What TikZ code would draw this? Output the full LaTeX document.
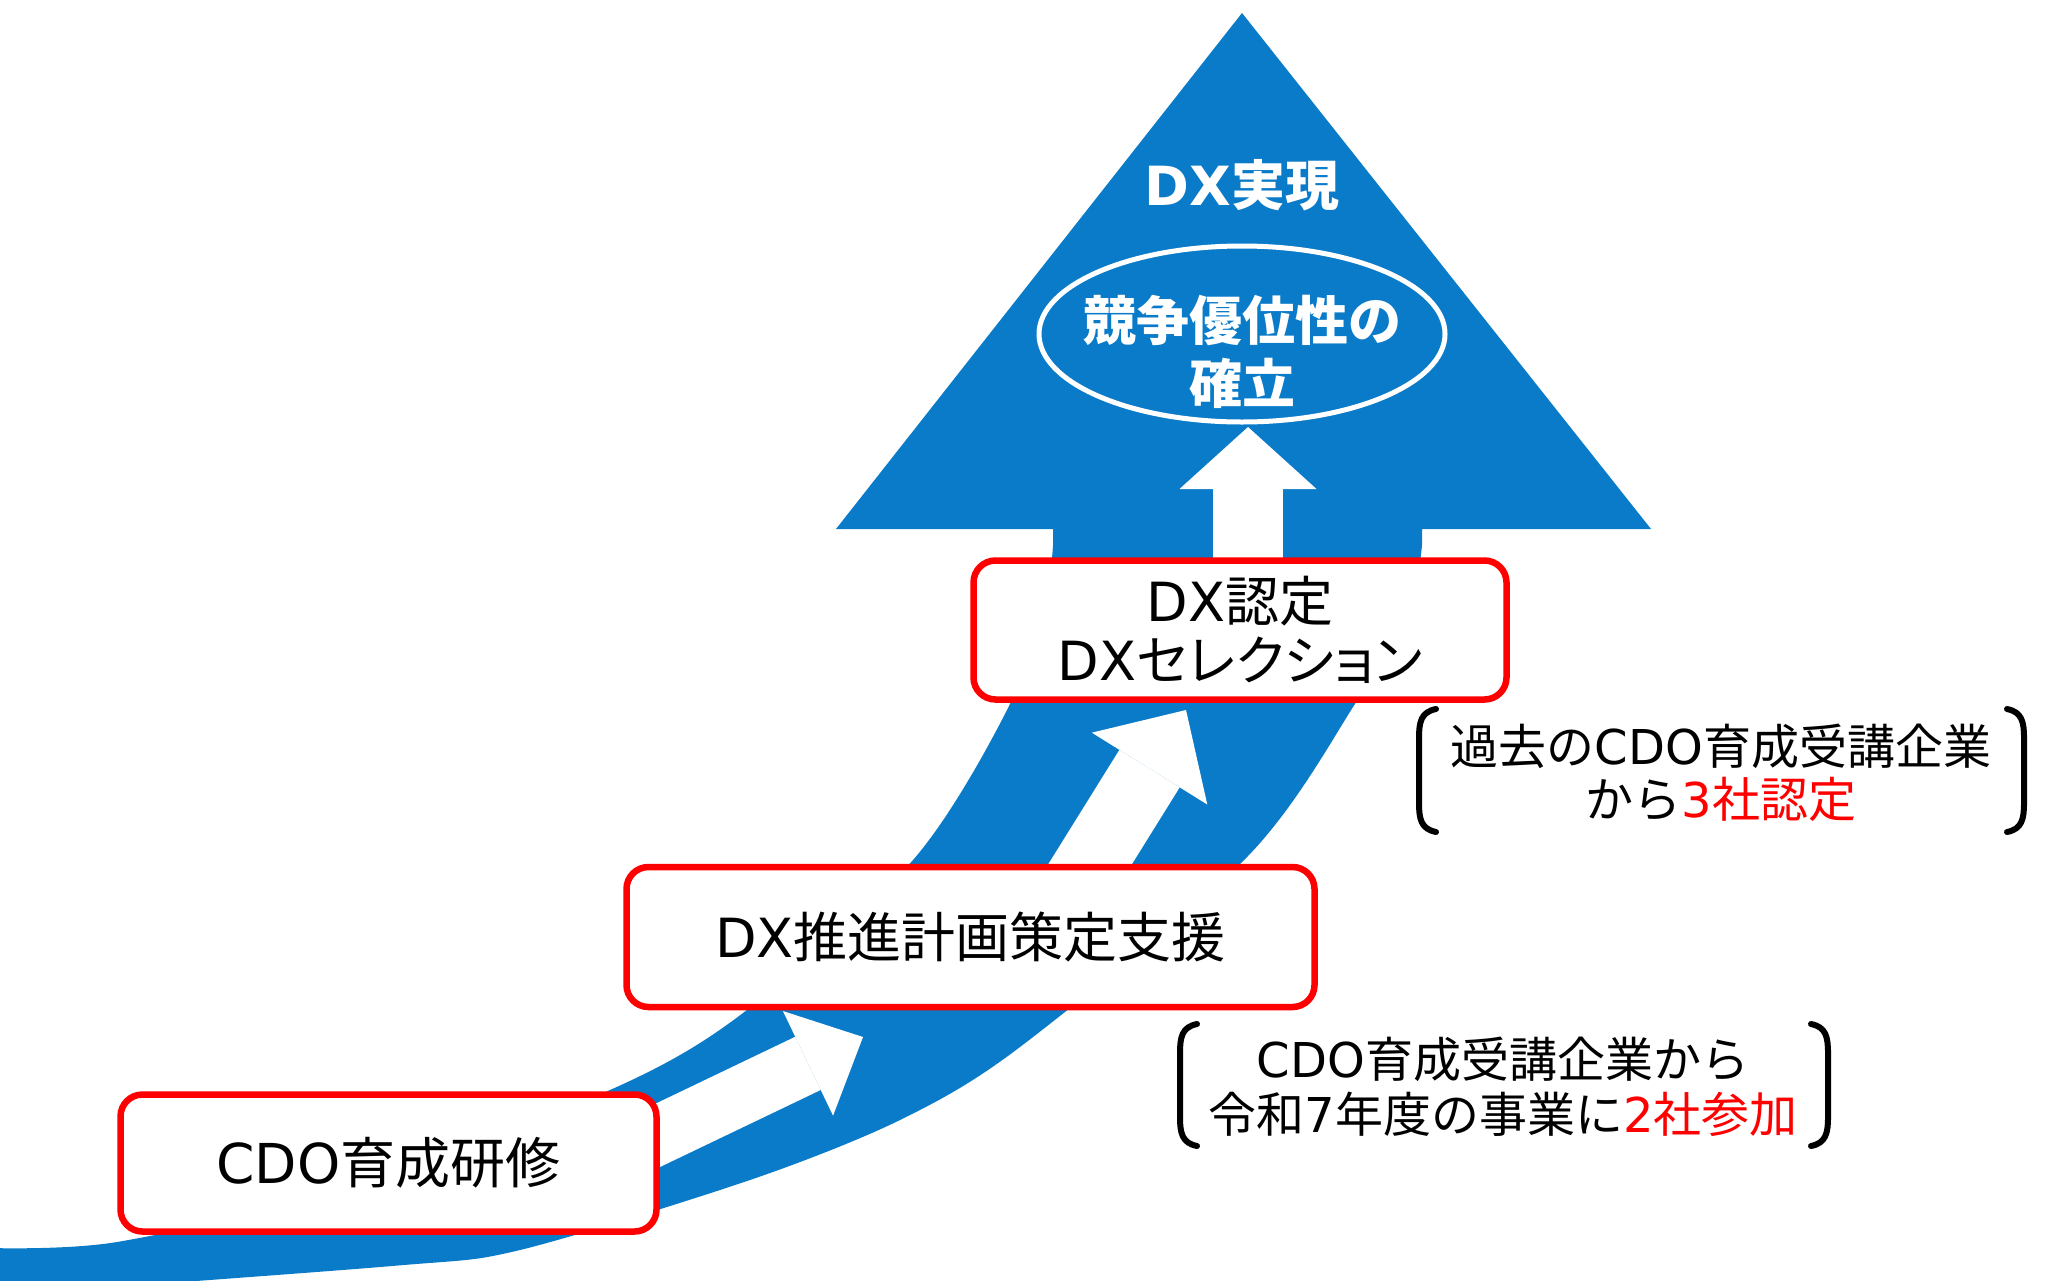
\documentclass[tikz,border=0pt]{standalone}
\usepackage{fontspec}
\setmainfont{Noto Sans CJK JP}
\newfontfamily\lat{DejaVu Sans}
\newfontfamily\jpp[CharacterWidth=AlternateProportional]{Noto Sans CJK JP}
\usetikzlibrary{arrows.meta,shapes.geometric}
\definecolor{dxblue}{HTML}{0A7BC9}
\definecolor{dxred}{HTML}{FF0000}
\newcommand\ltn[1]{{\lat #1}}
\begin{document}
\begin{tikzpicture}[x=1pt,y=-1pt,
  stagebox/.style={draw=dxred, line width=6.5pt, fill=white, rounded corners=22pt, inner sep=0pt, align=center},
  note/.style={align=center, inner sep=0pt, text=black},
  brk/.style={line width=6pt, line cap=round, draw=black},
  whitearrow/.style={draw=white, line cap=butt}
]
\useasboundingbox (0,0) rectangle (2047,1280);
\fill[white] (0,0) rectangle (2047,1280);

% big blue curved arrow
\fill[dxblue] plot[smooth] coordinates {(-10,1248) (117,1242) (350,1188) (610,1090) (743,1013) (913,860) (1007,710) (1045,600) (1053,545)}
  -- (1053,529) -- (836,529) -- (1242,13) -- (1651,529) -- (1422,529) -- (1422,545)
  -- plot[smooth] coordinates {(1422,545) (1410,600) (1353,707) (1247,857) (1020,1047) (900,1120) (750,1180) (520,1250) (392,1266) (-10,1296)}
  -- cycle;

% arrow connectors (tails hidden behind the boxes)
\coordinate (a1s) at (600,1163);
\coordinate (a1e) at (863,1037);
\coordinate (a2s) at (1074,890);
\coordinate (a2e) at (1186,710);
\coordinate (a3s) at (1248,575);
\coordinate (a3e) at (1248,427);
\draw[whitearrow, line width=59pt, -{Triangle[length=61pt,width=116pt,line width=0pt]}] (a1s) -- (a1e);
\draw[whitearrow, line width=71pt, -{Triangle[length=69pt,width=136pt,line width=0pt]}] (a2s) -- (a2e);
\draw[whitearrow, line width=70pt, -{Triangle[length=62pt,width=137pt,line width=0pt]}] (a3s) -- (a3e);

% goal
\node[white, font=\bfseries\fontsize{54pt}{60pt}\selectfont, inner sep=0pt] (title) at (1242,185) {\ltn{DX}実現};
\node[draw=white, line width=5pt, ellipse, minimum width=406pt, minimum height=176pt, inner sep=0pt] (goal) at (1242,334) {};
\node[white, font=\bfseries\fontsize{53pt}{63pt}\selectfont, align=center, inner sep=0pt] (goaltxt) at (1242,352) {競争優位性の\\確立};

% stage boxes
\node[stagebox, minimum width=536pt, minimum height=137pt, font=\fontsize{55pt}{60pt}\selectfont] (b1) at (388.5,1163) {\ltn{CDO}育成研修};
\node[stagebox, minimum width=688pt, minimum height=140pt, font=\fontsize{54pt}{60pt}\selectfont] (b2) at (970.5,937) {\ltn{DX}推進計画策定支援};
\node[stagebox, minimum width=533pt, minimum height=139pt, font=\fontsize{54pt}{59pt}\selectfont] (b3) at (1240,630) {\ltn{DX}認定\\\ltn{DX}{\jpp セレクション}};

% notes
\node[note, font=\fontsize{48pt}{53pt}\selectfont] (n1) at (1721,773) {過去の\ltn{CDO}育成受講企業\\から{\color{dxred}\ltn{3}社認定}};
\node[note, font=\fontsize{48pt}{55pt}\selectfont] (n2) at (1503,1087) {\ltn{CDO}育成受講企業から\\令和\ltn{7}年度の事業に{\color{dxred}\ltn{2}社参加}};

% brackets
\draw[brk] (1436,709) .. controls (1421,712) and (1419,722) .. (1419,738) -- (1419,803) .. controls (1419,819) and (1421,829) .. (1436,832);
\draw[brk] (2007,709) .. controls (2022,712) and (2024,722) .. (2024,738) -- (2024,803) .. controls (2024,819) and (2022,829) .. (2007,832);
\draw[brk] (1197,1024) .. controls (1182,1027) and (1180,1037) .. (1180,1053) -- (1180,1117) .. controls (1180,1133) and (1182,1143) .. (1197,1146);
\draw[brk] (1811,1024) .. controls (1826,1027) and (1828,1037) .. (1828,1053) -- (1828,1117) .. controls (1828,1133) and (1826,1143) .. (1811,1146);
\end{tikzpicture}
\end{document}
